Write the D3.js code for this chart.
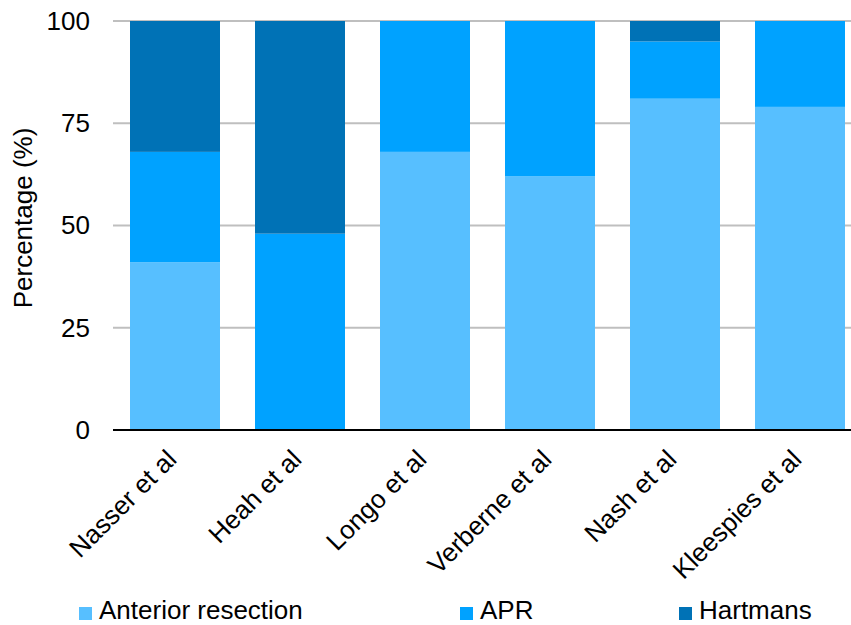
<!DOCTYPE html>
<html>
<head>
<meta charset="utf-8">
<script src="https://cdn.jsdelivr.net/npm/d3@7"></script>
<style>
  html, body { margin: 0; padding: 0; background: #fff; }
  svg { display: block; font-family: "Liberation Sans", Arial, sans-serif; }
</style>
</head>
<body>
<svg id="chart" width="851" height="625"></svg>
<script>
// Surgical procedure share per study (%)
const studies = ["Nasser et al", "Heah et al", "Longo et al", "Verberne et al", "Nash et al", "Kleespies et al"];
const anteriorResection = [41, 0, 68, 62, 81, 79];
const apr = [27, 48, 32, 38, 14, 21];
const hartmans = [32, 52, 0, 0, 5, 0];
const seriesNames = ["Anterior resection", "APR", "Hartmans"];
const seriesColors = ["#57BFFF", "#00A2FF", "#0072B6"];
const yTicks = [0, 25, 50, 75, 100];

const rows = studies.map((s, i) => ({
  study: s,
  "Anterior resection": anteriorResection[i],
  "APR": apr[i],
  "Hartmans": hartmans[i]
}));

const FONT = "Liberation Sans, Arial, sans-serif";
const svg = d3.select("#chart");
const x = d3.scaleBand().domain(studies).range([112.5, 862.5]).paddingInner(0.28).paddingOuter(0.14);
const y = d3.scaleLinear().domain([0, 100]).range([430, 21]);
const color = d3.scaleOrdinal().domain(seriesNames).range(seriesColors);

// gridlines
svg.append("g").selectAll("line").data(yTicks.filter(t => t > 0)).join("line")
  .attr("x1", 113).attr("x2", 851)
  .attr("y1", d => y(d)).attr("y2", d => y(d))
  .attr("stroke", "#bfbfbf").attr("stroke-width", 2);

// stacked bars
const stack = d3.stack().keys(seriesNames)(rows);
svg.append("g").selectAll("g").data(stack).join("g")
  .attr("fill", d => color(d.key))
  .selectAll("rect").data(d => d).join("rect")
  .attr("x", d => x(d.data.study))
  .attr("width", x.bandwidth())
  .attr("y", d => y(d[1]))
  .attr("height", d => y(d[0]) - y(d[1]));

// baseline
svg.append("line").attr("x1", 113).attr("x2", 851)
  .attr("y1", y(0)).attr("y2", y(0))
  .attr("stroke", "#000").attr("stroke-width", 2);

// y axis labels
const yAxis = d3.axisLeft(y).tickValues(yTicks).tickSize(0).tickPadding(0);
const yg = svg.append("g").attr("transform", "translate(90,0)").call(yAxis);
yg.select(".domain").remove();
yg.selectAll("text").attr("font-size", 26).attr("fill", "#000")
  .attr("font-family", FONT);

svg.append("text")
  .attr("transform", "translate(32,218) rotate(-90)")
  .attr("text-anchor", "middle")
  .attr("font-size", 26).attr("font-family", FONT).attr("fill", "#000")
  .text("Percentage (%)");

// x axis labels
const xAxis = d3.axisBottom(x).tickSize(0).tickPadding(0);
const xg = svg.append("g").attr("transform", "translate(0,430)").call(xAxis);
xg.select(".domain").remove();
xg.selectAll("text")
  .attr("font-size", 26).attr("fill", "#000")
  .attr("font-family", FONT)
  .attr("text-anchor", "end")
  .attr("dy", null)
  .attr("y", 0)
  .attr("transform", "translate(3,31) rotate(-45)");

// legend
const legendX = [79, 460, 679];
const lg = svg.append("g").selectAll("g").data(seriesNames).join("g")
  .attr("transform", (d, i) => `translate(${legendX[i]},619)`);
lg.append("rect").attr("x", 0).attr("y", -12).attr("width", 13).attr("height", 13)
  .attr("fill", d => color(d));
lg.append("text").attr("x", 20).attr("y", 0)
  .attr("font-size", 26).attr("font-family", FONT).attr("fill", "#000").text(d => d);
</script>
</body>
</html>
